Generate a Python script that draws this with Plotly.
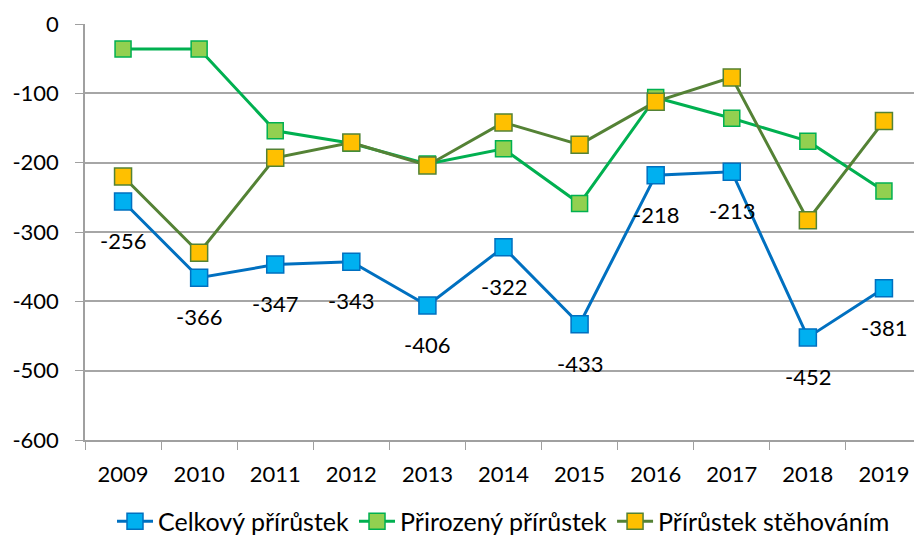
import plotly.graph_objects as go

years = ["2009", "2010", "2011", "2012", "2013", "2014", "2015", "2016", "2017", "2018", "2019"]
celkovy = [-256, -366, -347, -343, -406, -322, -433, -218, -213, -452, -381]
prirozeny = [-36, -36, -154, -172, -202, -180, -259, -106, -136, -169, -241]
stehovani = [-220, -330, -193, -171, -204, -142, -174, -112, -77, -283, -140]
y_ticks = [0, -100, -200, -300, -400, -500, -600]
y_tick_labels = ["0", "-100", "-200", "-300", "-400", "-500", "-600"]

FONT = "Lato"

fig = go.Figure()
fig.add_trace(go.Scatter(
    x=years, y=celkovy, name="Celkový přírůstek", mode="lines+markers",
    line=dict(color="#0070C0", width=3),
    marker=dict(symbol="square", size=17, color="#00B0F0", line=dict(color="#0070C0", width=1.5)),
))
fig.add_trace(go.Scatter(
    x=years, y=prirozeny, name="Přirozený přírůstek", mode="lines+markers",
    line=dict(color="#00B050", width=3),
    marker=dict(symbol="square", size=16, color="#92D050", line=dict(color="#00B050", width=1.5)),
))
fig.add_trace(go.Scatter(
    x=years, y=stehovani, name="Přírůstek stěhováním", mode="lines+markers",
    line=dict(color="#548235", width=3),
    marker=dict(symbol="square", size=17, color="#FFC000", line=dict(color="#548235", width=1.5)),
))

for i, yv in enumerate(celkovy):
    fig.add_annotation(x=i, y=yv, xref="x", yref="y", text=str(yv), showarrow=False,
                       yshift=-39, font=dict(family=FONT, size=22, color="#000000"))

fig.update_layout(
    width=914, height=532,
    margin=dict(l=77, r=0, t=16, b=100, autoexpand=False),
    paper_bgcolor="white", plot_bgcolor="white",
    font=dict(family=FONT, size=22, color="#000000"),
    showlegend=True,
    legend=dict(orientation="h", x=0.5, xanchor="center", yref="container", y=0.035, yanchor="middle",
                font=dict(family=FONT, size=25), tracegroupgap=0, itemwidth=36),
    xaxis=dict(type="category", showgrid=False, showline=True, linecolor="#A0A0A0", linewidth=1.5,
               ticks="outside", tickson="boundaries", ticklen=8, tickcolor="#A0A0A0",
               tickfont=dict(family=FONT, size=22), range=[-0.5, 10.5], automargin=False,
               ticklabelstandoff=14),
    yaxis=dict(range=[-600, 0], tickvals=y_ticks, ticktext=y_tick_labels,
               showgrid=True, gridcolor="#A6A6A6", gridwidth=1.5,
               showline=True, linecolor="#A0A0A0", linewidth=1.5, ticks="outside", ticklen=8,
               tickcolor="#A0A0A0", zeroline=False, tickfont=dict(family=FONT, size=22),
               automargin=False, ticklabelstandoff=12),
)

fig.write_html("out.html")
